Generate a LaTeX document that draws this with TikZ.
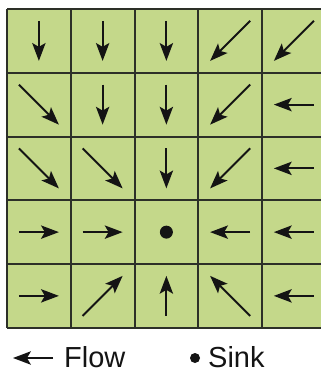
\documentclass[tikz,border=0pt]{standalone}
\usepackage{fontspec}
\setmainfont{Liberation Sans}
\usetikzlibrary{calc}
\definecolor{cellgreen}{RGB}{196,216,138}
\definecolor{gridline}{RGB}{45,48,40}
\definecolor{ink}{RGB}{20,20,20}
\tikzset{
  shaft/.style={draw=ink, line width=1.9pt},
  headfill/.style={fill=ink},
  gridline/.style={draw=gridline, line width=2pt},
  legend/.style={inner sep=0pt, anchor=base west, font=\fontsize{29}{31}\selectfont, text=ink}
}
% \flowarrow{start}{tip}{ux}{uy}
\newcommand\flowarrow[4]{%
  \draw[shaft] (#1) -- ($(#2)+({-10*#3},{-10*#4})$);
  \fill[headfill] (#2) -- ($(#2)+({-18*#3-6.8*#4},{-18*#4+6.8*#3})$)
     -- ($(#2)+({-14*#3},{-14*#4})$)
     -- ($(#2)+({-18*#3+6.8*#4},{-18*#4-6.8*#3})$) -- cycle;}
\begin{document}
\begin{tikzpicture}[x=1pt,y=-1pt]
\useasboundingbox (0,0) rectangle (321,372);
% cells
\fill[cellgreen] (7,9) rectangle (325.75,327.75);
\foreach \i in {0,...,5} {
  \draw[gridline] ({7+63.75*\i},9) -- ({7+63.75*\i},327.75);
  \draw[gridline] (7,{9+63.75*\i}) -- (325.75,{9+63.75*\i});
}
% cell centres
\foreach \r in {0,...,4} {
  \foreach \c in {0,...,4} {
    \coordinate (c-\r-\c) at ({7+63.75*\c+31.875},{9+63.75*\r+31.875});
  }
}
% flow arrows: row/column/dx/dy (y down)
\foreach \r/\c/\dx/\dy in {
  0/0/0/1, 0/1/0/1, 0/2/0/1, 0/3/-1/1, 0/4/-1/1,
  1/0/1/1, 1/1/0/1, 1/2/0/1, 1/3/-1/1, 1/4/-1/0,
  2/0/1/1, 2/1/1/1, 2/2/0/1, 2/3/-1/1, 2/4/-1/0,
  3/0/1/0, 3/1/1/0, 3/3/-1/0, 3/4/-1/0,
  4/0/1/0, 4/1/1/-1, 4/2/0/-1, 4/3/-1/-1, 4/4/-1/0} {
  \pgfmathsetmacro\vl{veclen(\dx,\dy)}
  \pgfmathsetmacro\ux{\dx/\vl}
  \pgfmathsetmacro\uy{\dy/\vl}
  \coordinate (s-\r-\c) at ($(c-\r-\c)+({-20*\dx},{-20*\dy})$);
  \coordinate (t-\r-\c) at ($(c-\r-\c)+({20*\dx},{20*\dy})$);
  \flowarrow{s-\r-\c}{t-\r-\c}{\ux}{\uy}
}
% sink
\fill[ink] (c-3-2) circle (6.5pt);
% legend
\coordinate (lf-start) at (53,358);
\coordinate (lf-end) at (13,358);
\flowarrow{lf-start}{lf-end}{-1}{0}
\node[legend] (flowtext) at (64,367) {Flow};
\coordinate (sinkdot) at (195,358);
\fill[ink] (sinkdot) circle (5pt);
\node[legend] (sinktext) at (208,367) {Sink};
\end{tikzpicture}
\end{document}
